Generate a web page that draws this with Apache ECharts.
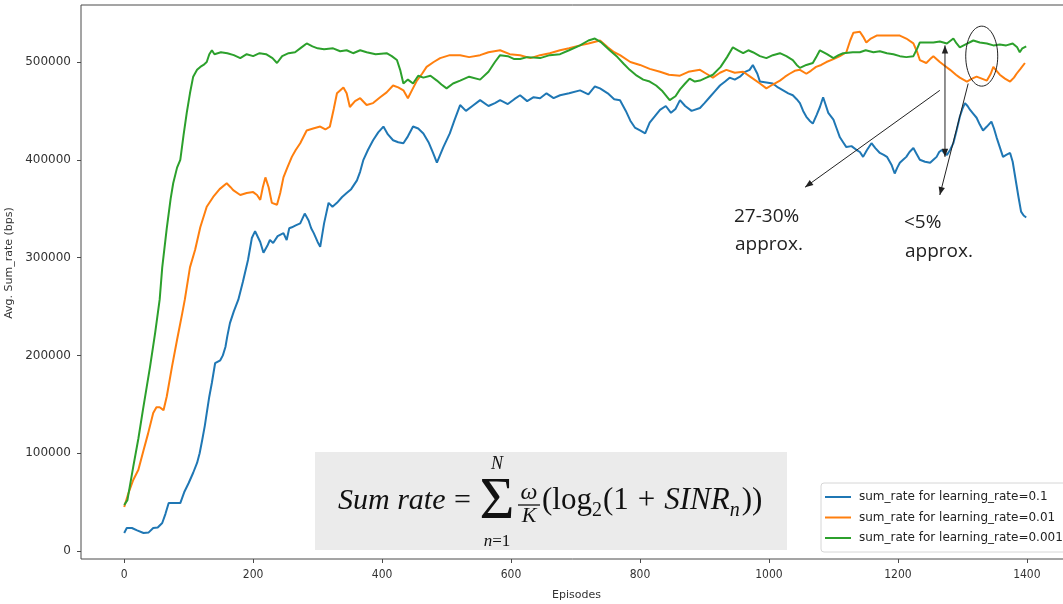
<!DOCTYPE html>
<html>
<head>
<meta charset="utf-8">
<script src="https://cdn.jsdelivr.net/npm/echarts@6/dist/echarts.min.js"></script>
<style>
  html, body { margin: 0; padding: 0; background: #fff; }
  #chart { width: 1063px; height: 604px; }
</style>
</head>
<body>
<div id="chart"></div>
<script>
// Tick values shown on the axes
const xTicks = [0, 200, 400, 600, 800, 1000, 1200, 1400];
const yTicks = [0, 100000, 200000, 300000, 400000, 500000];

const seriesNames = [
  'sum_rate for learning_rate=0.1',
  'sum_rate for learning_rate=0.01',
  'sum_rate for learning_rate=0.001'
];
const seriesColors = ['#1f77b4', '#ff7f0e', '#2ca02c'];

// [episode, average sum rate (bps)] for learning_rate = 0.1
const rateLr01 = [
  [0,18400],[4,23500],[12,23500],[20,21000],[30,18400],[38,19000],[45,23500],[52,24000],[59,28600],[64,38000],
  [69,49000],[78,49000],[87,49000],[93,60000],[100,69500],[107,80000],[113,90000],[117,100000],[121,113500],[125,128000],
  [128,141000],[132,158000],[136,172000],[141,192000],[149,195000],[153,200000],[157,208600],[160,220000],[164,233000],[170,245000],
  [177,257000],[184,275000],[192,297500],[198,320000],[203,327000],[206,328000],[211,316000],[216,305000],[222,312000],[226,318000],
  [231,315000],[238,322000],[247,325000],[252,318000],[256,330000],[260,331000],[266,333000],[273,335000],[280,345000],[286,338000],
  [290,330000],[294,325000],[300,316000],[304,311000],[310,335000],[317,356000],[323,352000],[330,356000],[338,362000],[345,366000],
  [352,370000],[361,379000],[366,388000],[371,400000],[378,410000],[386,420000],[394,428000],[402,434000],[409,426000],[417,420000],
  [425,418000],[433,417000],[440,424000],[448,434000],[456,432000],[464,427000],[472,418000],[479,407000],[485,397000],[490,405000],
  [495,413000],[505,427000],[512,440000],[521,456000],[530,450000],[540,455000],[552,461000],[565,455000],[575,458000],[583,461000],
  [595,457000],[605,462000],[614,466000],[625,460000],[635,464000],[645,463000],[655,468000],[666,463000],[676,466000],[690,468000],
  [707,471000],[720,467000],[730,475000],[738,473000],[750,468000],[760,462000],[769,461000],[778,450000],[785,440000],[792,433000],
  [800,430000],[808,427000],[815,438000],[831,451000],[840,455000],[848,448000],[855,452000],[862,461000],[870,455000],[880,450000],
  [893,453000],[900,458000],[908,464000],[916,470000],[924,476000],[932,480000],[939,484000],[947,482000],[955,485000],[963,490000],
  [970,492000],[975,497000],[978,497000],[982,488000],[986,480000],[996,479000],[1006,478000],[1014,474000],[1022,471000],[1030,468000],
  [1037,466000],[1043,462000],[1048,458000],[1053,450000],[1058,444000],[1063,440000],[1068,437000],[1074,446000],[1079,454000],[1084,464000],
  [1088,456000],[1092,448000],[1100,441000],[1105,432000],[1110,423000],[1115,418000],[1120,413000],[1128,414000],[1136,410000],[1141,408000],
  [1146,403000],[1152,410000],[1159,417000],[1165,412000],[1172,407000],[1178,405000],[1183,403000],[1190,395000],[1195,386000],[1199,392000],
  [1203,397000],[1208,400000],[1213,403000],[1218,408000],[1224,412000],[1229,406000],[1234,400000],[1242,398000],[1250,397000],[1255,400000],
  [1260,403000],[1264,408000],[1268,410000],[1272,407000],[1276,405000],[1281,410000],[1286,417000],[1291,430000],[1296,444000],[1300,452000],
  [1304,458000],[1308,455000],[1312,451000],[1317,447000],[1322,443000],[1327,436000],[1332,430000],[1338,434000],[1345,439000],[1349,432000],
  [1353,423000],[1358,413000],[1363,403000],[1368,405000],[1374,407000],[1378,398000],[1381,386000],[1384,374000],[1387,362000],[1391,347000],
  [1395,343000],[1399,341000]
];

// [episode, average sum rate (bps)] for learning_rate = 0.01
const rateLr001 = [
  [0,45000],[6,58000],[14,72600],[22,83000],[30,103000],[37,120000],[45,141000],[50,147000],[55,147000],[61,144000],
  [66,158000],[74,188000],[82,216000],[90,243000],[94,257000],[102,290000],[110,308000],[118,331000],[128,352000],[138,362000],
  [148,370000],[159,376000],[165,372000],[169,369000],[180,364000],[190,366000],[200,367000],[206,364000],[211,359000],[215,372000],
  [219,382000],[224,372000],[229,356000],[237,354000],[242,366000],[247,382000],[253,392000],[260,403000],[266,410000],[273,417000],
  [283,430000],[293,432000],[304,434000],[312,431000],[319,434000],[325,452000],[330,468000],[340,474000],[345,468000],[350,454000],
  [358,460000],[366,463000],[376,456000],[386,458000],[397,464000],[407,469000],[417,476000],[425,474000],[433,471000],[440,463000],
  [447,472000],[454,481000],[462,488000],[469,495000],[480,500000],[490,504000],[505,507000],[521,507000],[535,505000],[552,507000],
  [565,510000],[583,512000],[598,508000],[614,507000],[630,504000],[645,507000],[660,509000],[676,512000],[690,514000],[707,517000],
  [720,519000],[738,522000],[750,515000],[760,510000],[769,507000],[785,500000],[800,497000],[815,493000],[831,490000],[845,487000],
  [862,486000],[875,490000],[893,492000],[903,488000],[913,484000],[924,489000],[934,492000],[947,489000],[960,490000],[973,484000],
  [986,478000],[996,473000],[1006,477000],[1017,481000],[1025,485000],[1032,488000],[1040,491000],[1048,492000],[1058,488000],[1065,491000],
  [1073,495000],[1081,497000],[1089,500000],[1100,503000],[1110,506000],[1120,510000],[1126,522000],[1131,530000],[1141,531000],[1146,526000],
  [1151,520000],[1158,524000],[1167,527000],[1183,527000],[1203,527000],[1213,524000],[1224,519000],[1230,510000],[1234,502000],[1244,499000],
  [1250,503000],[1255,506000],[1265,500000],[1273,496000],[1281,492000],[1290,487000],[1296,484000],[1307,480000],[1315,483000],[1322,485000],
  [1330,483000],[1338,481000],[1344,488000],[1348,495000],[1353,491000],[1358,487000],[1366,483000],[1374,480000],[1380,484000],[1384,488000],
  [1390,493000],[1397,499000]
];

// [episode, average sum rate (bps)] for learning_rate = 0.001
const rateLr0001 = [
  [0,47000],[5,52000],[14,86000],[22,115000],[29,144000],[35,168000],[40,188000],[48,223000],[55,257000],[59,290000],
  [66,330000],[72,360000],[76,376000],[82,392000],[87,400000],[92,425000],[97,448000],[102,468000],[107,485000],[113,492000],
  [118,495000],[123,497000],[128,500000],[132,508000],[136,512000],[140,508000],[150,510000],[160,509000],[170,507000],[180,504000],
  [190,508000],[200,506000],[210,509000],[220,508000],[230,504000],[237,499000],[245,506000],[255,509000],[265,510000],[275,515000],
  [283,519000],[292,516000],[300,514000],[310,513000],[324,514000],[335,511000],[345,512000],[355,509000],[366,512000],[376,510000],
  [390,508000],[407,509000],[415,506000],[423,502000],[428,492000],[433,478000],[440,482000],[448,478000],[456,486000],[464,484000],
  [475,486000],[485,481000],[492,477000],[500,473000],[510,478000],[521,481000],[535,485000],[552,482000],[565,490000],[575,500000],
  [583,507000],[595,506000],[605,503000],[614,503000],[625,505000],[645,504000],[660,507000],[676,508000],[690,512000],[707,517000],
  [720,522000],[730,524000],[740,520000],[753,512000],[765,505000],[775,498000],[784,492000],[795,486000],[805,482000],[815,480000],
  [825,476000],[835,470000],[846,461000],[855,465000],[862,472000],[870,478000],[877,483000],[885,480000],[893,481000],[903,484000],
  [913,487000],[925,495000],[935,505000],[944,515000],[952,512000],[960,509000],[968,512000],[975,510000],[986,506000],[996,504000],
  [1006,507000],[1017,509000],[1027,506000],[1037,502000],[1043,497000],[1048,494000],[1058,497000],[1068,499000],[1074,506000],[1079,512000],
  [1090,508000],[1100,504000],[1108,507000],[1115,509000],[1130,510000],[1141,510000],[1150,512000],[1162,510000],[1172,511000],[1183,509000],
  [1193,508000],[1203,506000],[1213,505000],[1224,506000],[1230,514000],[1234,520000],[1245,520000],[1255,520000],[1265,521000],[1276,519000],
  [1282,522000],[1286,524000],[1291,519000],[1296,515000],[1305,518000],[1317,522000],[1327,520000],[1338,519000],[1348,517000],[1358,518000],
  [1368,517000],[1378,519000],[1385,515000],[1389,510000],[1393,514000],[1399,516000]
];

const seriesData = [rateLr01, rateLr001, rateLr0001];

const axisColor = '#4a4a4a';
const labelColor = '#333';

const chart = echarts.init(document.getElementById('chart'), null, { renderer: 'canvas' });

chart.setOption({
  animation: false,
  backgroundColor: '#fff',
  grid: {
    left: 81, top: 5, width: 991, height: 554,
    containLabel: false, outerBoundsMode: 'none',
    show: true, borderColor: axisColor, borderWidth: 1, backgroundColor: 'transparent'
  },
  xAxis: {
    type: 'value', min: -67, max: 1470,
    name: 'Episodes', nameLocation: 'middle', nameGap: 31,
    nameTextStyle: { fontFamily: 'DejaVu Sans', fontSize: 11, color: labelColor },
    axisLine: { show: false, onZero: false },
    axisTick: { show: true, length: 4, customValues: xTicks, lineStyle: { color: axisColor } },
    axisLabel: {
      customValues: xTicks, margin: 10, color: labelColor,
      fontFamily: "'DejaVu Sans Condensed', 'DejaVu Sans'", fontSize: 12,
      formatter: v => String(v)
    },
    splitLine: { show: false }
  },
  yAxis: {
    type: 'value', min: -8200, max: 558300,
    name: 'Avg. Sum_rate (bps)', nameLocation: 'middle', nameGap: 58,
    nameTextStyle: { fontFamily: 'DejaVu Sans', fontSize: 11, color: labelColor, padding: [0, 0, 0, 38] },
    axisLine: { show: false, onZero: false },
    axisTick: { show: true, length: 4, customValues: yTicks, lineStyle: { color: axisColor } },
    axisLabel: {
      customValues: yTicks, margin: 10, color: labelColor,
      fontFamily: 'DejaVu Sans', fontSize: 12,
      formatter: v => String(v)
    },
    splitLine: { show: false }
  },
  legend: {
    orient: 'vertical', left: 821, top: 483,
    padding: [7, 8, 7, 4], itemWidth: 26, itemHeight: 2, itemGap: 6.5,
    icon: 'rect',
    backgroundColor: '#fff', borderColor: '#d6d6d6', borderWidth: 1, borderRadius: 3,
    textStyle: { fontFamily: 'DejaVu Sans', fontSize: 12, color: '#222', padding: [0, 0, 0, 3], lineHeight: 14 },
    data: seriesNames
  },
  series: seriesNames.map((name, i) => ({
    name: name,
    type: 'line',
    data: seriesData[i],
    symbol: 'none',
    showSymbol: false,
    color: seriesColors[i],
    itemStyle: { color: seriesColors[i] },
    lineStyle: { width: 2, color: seriesColors[i] },
    z: 2 + i
  }))
});

// ---- annotations: formula box, arrows, ellipse and notes ----
const toPx = p => chart.convertToPixel({ gridIndex: 0 }, p);
const ink = '#222';

function arrowHead(tip, from, len, half) {
  const dx = tip[0] - from[0], dy = tip[1] - from[1];
  const d = Math.hypot(dx, dy), ux = dx / d, uy = dy / d;
  const bx = tip[0] - ux * len, by = tip[1] - uy * len;
  return {
    type: 'polygon', z: 20,
    shape: { points: [tip, [bx - uy * half, by + ux * half], [bx + uy * half, by - ux * half]] },
    style: { fill: ink }
  };
}

function arrow(fromData, toData, both) {
  const a = toPx(fromData), b = toPx(toData);
  const els = [{
    type: 'line', z: 20,
    shape: { x1: a[0], y1: a[1], x2: b[0], y2: b[1] },
    style: { stroke: ink, lineWidth: 1 }
  }, arrowHead(b, a, 8, 3.2)];
  if (both) els.push(arrowHead(a, b, 8, 3.2));
  return els;
}

const graphics = [];

// gap markers between the curves near the end of training
graphics.push(...arrow([1273, 517000], [1273, 403000], true));
graphics.push(...arrow([1265, 471000], [1056, 372000], false));
graphics.push(...arrow([1309, 478000], [1265, 364000], false));

const ec = toPx([1330, 506000]);
graphics.push({
  type: 'ellipse', z: 20,
  shape: { cx: ec[0], cy: ec[1], rx: 16, ry: 30 },
  style: { stroke: ink, fill: null, lineWidth: 1 }
});

function note(x, baseline, text, size) {
  return {
    type: 'text', z: 21, x: x, y: baseline - 0.285 * size,
    style: {
      text: text, fill: ink, font: size + 'px "Open Sans"',
      textAlign: 'left', textVerticalAlign: 'middle', align: 'left', verticalAlign: 'middle'
    }
  };
}
graphics.push(note(734, 222, '27-30%', 19));
graphics.push(note(735, 250, 'approx.', 19));
graphics.push(note(904, 228, '<5%', 19));
graphics.push(note(905, 257, 'approx.', 19));

// formula panel
graphics.push({
  type: 'rect', z: 10,
  shape: { x: 315, y: 452, width: 472, height: 98 },
  style: { fill: '#ebebeb' }
});

const measureCtx = document.createElement('canvas').getContext('2d');
function textWidth(font, s) { measureCtx.font = font; return measureCtx.measureText(s).width; }
const serif = '"Liberation Serif", "DejaVu Serif", serif';
function fText(x, baseline, s, size, italic, align) {
  return {
    type: 'text', z: 11, x: x, y: baseline - 0.305 * size,
    style: {
      text: s, fill: '#111', font: (italic ? 'italic ' : '') + size + 'px ' + serif,
      textAlign: align || 'left', textVerticalAlign: 'middle',
      align: align || 'left', verticalAlign: 'middle'
    }
  };
}

const base = 510;
graphics.push(fText(338, base, 'Sum rate', 30, true));
graphics.push(fText(454, base, '=', 30, false));
graphics.push(fText(497, base + 11, 'Σ', 60, false, 'center'));
graphics.push(fText(497, 470, 'N', 18, true, 'center'));
graphics.push({
  type: 'text', z: 11, x: 497, y: 547 - 0.305 * 17,
  style: {
    text: '{i|n}{u|=1}', align: 'center', verticalAlign: 'middle',
    textAlign: 'center', textVerticalAlign: 'middle',
    rich: {
      i: { font: 'italic 17px ' + serif, fill: '#111' },
      u: { font: '17px ' + serif, fill: '#111' }
    }
  }
});
graphics.push(fText(529, 500, 'ω', 24, true, 'center'));
graphics.push({
  type: 'line', z: 11,
  shape: { x1: 518, y1: 505, x2: 540, y2: 505 },
  style: { stroke: '#111', lineWidth: 1.3 }
});
graphics.push(fText(529, 523, 'K', 22, true, 'center'));

const tail = [
  { s: '(log', size: 31, it: false, dy: 0, gap: 0 },
  { s: '2', size: 20, it: false, dy: 7, gap: 1 },
  { s: '(1', size: 31, it: false, dy: 0, gap: 9 },
  { s: '+', size: 31, it: false, dy: 0, gap: 9 },
  { s: 'SINR', size: 31, it: true, dy: 0, gap: 0 },
  { s: 'n', size: 20, it: true, dy: 7, gap: 2 },
  { s: '))', size: 31, it: false, dy: 0, gap: 0 }
];
let cx = 542;
tail.forEach(t => {
  graphics.push(fText(cx, base + t.dy, t.s, t.size, t.it));
  cx += textWidth((t.it ? 'italic ' : '') + t.size + 'px ' + serif, t.s) + t.gap;
});

chart.setOption({ graphic: graphics });
</script>
</body>
</html>
